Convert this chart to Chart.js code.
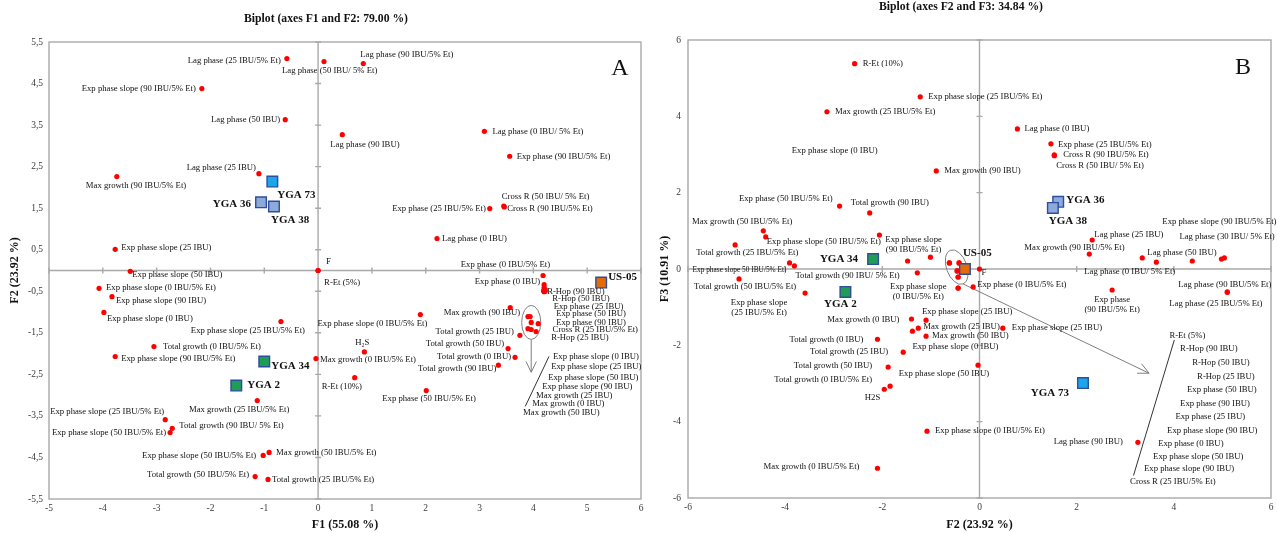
<!DOCTYPE html>
<html>
<head>
<meta charset="utf-8">
<script src="https://cdn.jsdelivr.net/npm/chart.js@4.4.1/dist/chart.umd.min.js"></script>
<style>
  html, body { margin: 0; padding: 0; background: #fff; }
  #wrap { position: relative; width: 1277px; height: 533px; overflow: hidden; }
  #cA { position: absolute; left: 0; top: 0; }
  #cB { position: absolute; left: 645px; top: 0; }
</style>
</head>
<body>
<div id="wrap">
  <canvas id="cA" width="650" height="533"></canvas>
  <canvas id="cB" width="635" height="533"></canvas>
</div>
<script>
// ---------- Panel A : axes F1 (55.08 %) and F2 (23.92 %) ----------
const varNamesA = [
  'Lag phase (25 IBU/5% Et)', 'Lag phase (50 IBU/ 5% Et)', 'Lag phase (90 IBU/5% Et)',
  'Exp phase slope (90 IBU/5% Et)', 'Lag phase (50 IBU)', 'Lag phase (90 IBU)',
  'Lag phase (0 IBU/ 5% Et)', 'Exp phase (90 IBU/5% Et)', 'Lag phase (25 IBU)',
  'Max growth (90 IBU/5% Et)', 'Cross R (50 IBU/ 5% Et)', 'Cross R (90 IBU/5% Et)',
  'Exp phase (25 IBU/5% Et)', 'Lag phase (0 IBU)', 'Exp phase slope (25 IBU)',
  'F', 'R-Et (5%)', 'Exp phase (0 IBU/5% Et)', 'Exp phase (0 IBU)',
  'R-Hop (90 IBU)', 'R-Hop (50 IBU)', 'Exp phase (25 IBU)', 'Exp phase (50 IBU)',
  'Exp phase (90 IBU)', 'Cross R (25 IBU/5% Et)', 'R-Hop (25 IBU)',
  'Max growth (90 IBU)', 'Exp phase slope (0 IBU/5% Et)', 'Total growth (25 IBU)',
  'Total growth (50 IBU)', 'Total growth (0 IBU)', 'Total growth (90 IBU)',
  'H\u2082S', 'Max growth (0 IBU/5% Et)', 'R-Et (10%)', 'Exp phase (50 IBU/5% Et)',
  'Exp phase slope (0 IBU)', 'Exp phase slope (25 IBU)', 'Exp phase slope (50 IBU)',
  'Exp phase slope (90 IBU)', 'Max growth (25 IBU)', 'Max growth (0 IBU)', 'Max growth (50 IBU)',
  'Exp phase slope (50 IBU)', 'Exp phase slope (0 IBU/5% Et)', 'Exp phase slope (90 IBU)',
  'Exp phase slope (0 IBU)', 'Exp phase slope (25 IBU/5% Et)', 'Total growth (0 IBU/5% Et)',
  'Exp phase slope (90 IBU/5% Et)', 'Max growth (25 IBU/5% Et)', 'Exp phase slope (25 IBU/5% Et)',
  'Total growth (90 IBU/ 5% Et)', 'Exp phase slope (50 IBU/5% Et)', 'Exp phase slope (50 IBU/5% Et)',
  'Max growth (50 IBU/5% Et)', 'Total growth (50 IBU/5% Et)', 'Total growth (25 IBU/5% Et)'
];
const f1A = [
  -0.58, 0.11, 0.84, -2.16, -0.61, 0.45, 3.09, 3.56, -1.10, -3.74, 3.45, 3.46, 3.19, 2.21, -3.77,
  0, 0, 4.18, 4.20, 4.20, 4.22, 4.21, 4.22, 4.20, 4.19, 4.20,
  3.57, 1.90, 3.75, 3.53, 3.66, 3.35, 0.86, -0.04, 0.68, 2.01,
  3.90, 3.94, 3.96, 4.09, 3.90, 3.96, 4.05,
  -3.49, -4.07, -3.83, -3.98, -0.69, -3.05, -3.77, -1.13, -2.84, -2.71, -2.75, -1.02, -0.91, -1.17, -0.93
];
const f2A = [
  5.10, 5.03, 4.98, 4.38, 3.63, 3.27, 3.35, 2.75, 2.33, 2.26, 1.55, 1.53, 1.49, 0.77, 0.51,
  0, 0, -0.12, -0.34, -0.41, -0.46, -0.48, -0.50, -0.51, -0.49, -0.47,
  -0.89, -1.06, -1.56, -1.88, -2.09, -2.28, -1.96, -2.12, -2.58, -2.89,
  -1.11, -1.11, -1.25, -1.28, -1.40, -1.42, -1.47,
  -0.02, -0.43, -0.63, -1.01, -1.23, -1.83, -2.07, -3.13, -3.59, -3.80, -3.90, -4.45, -4.38, -4.96, -5.03
];
const strainNamesA = ['YGA 73', 'YGA 36', 'YGA 38', 'YGA 34', 'YGA 2', 'US-05'];
const strainF1A = [-0.85, -1.06, -0.82, -1.00, -1.52, 5.26];
const strainF2A = [2.14, 1.64, 1.54, -2.19, -2.77, -0.29];
const xTicksA = [-5, -4, -3, -2, -1, 0, 1, 2, 3, 4, 5, 6];
const yTicksA = [-5.5, -4.5, -3.5, -2.5, -1.5, -0.5, 0.5, 1.5, 2.5, 3.5, 4.5, 5.5];

// ---------- Panel B : axes F2 (23.92 %) and F3 (10.91 %) ----------
const varNamesB = [
  'R-Et (10%)', 'Exp phase slope (25 IBU/5% Et)', 'Max growth (25 IBU/5% Et)', 'Lag phase (0 IBU)',
  'Exp phase (25 IBU/5% Et)', 'Cross R (90 IBU/5% Et)', 'Cross R (50 IBU/ 5% Et)', 'Max growth (90 IBU)',
  'Exp phase (50 IBU/5% Et)', 'Total growth (90 IBU)', 'Max growth (50 IBU/5% Et)',
  'Exp phase slope (50 IBU/5% Et)', 'Total growth (25 IBU/5% Et)', 'Exp phase slope 50 IBU/5% Et)',
  'Total growth (90 IBU/ 5% Et)', 'Total growth (50 IBU/5% Et)', 'Exp phase slope\n(25 IBU/5% Et)',
  '', 'Exp phase slope\n(90 IBU/5% Et)', '', 'Exp phase slope\n(0 IBU/5% Et)',
  'Max growth (0 IBU)', 'Exp phase slope (25 IBU)', 'Max growth (25 IBU)', 'Max growth (50 IBU)',
  'Exp phase slope (0 IBU)', 'Total growth (0 IBU)', 'Total growth (25 IBU)', 'Total growth (50 IBU)',
  'Total growth (0 IBU/5% Et)', 'H2S', 'Max growth (0 IBU/5% Et)', 'Exp phase slope (0 IBU/5% Et)',
  'F', 'Exp phase (0 IBU/5% Et)',
  'R-Et (5%)', 'R-Hop (90 IBU)', 'R-Hop (50 IBU)', 'R-Hop (25 IBU)', 'Exp phase (50 IBU)',
  'Exp phase (90 IBU)', 'Exp phase (25 IBU)', 'Exp phase slope (90 IBU)', 'Exp phase (0 IBU)',
  'Exp phase slope (50 IBU)', 'Exp phase slope (90 IBU)', 'Cross R (25 IBU/5% Et)',
  'Lag phase (25 IBU)', 'Max growth (90 IBU/5% Et)', 'Lag phase (0 IBU/ 5% Et)', 'Lag phase (50 IBU)',
  '', 'Lag phase (30 IBU/ 5% Et)', 'Exp phase slope (90 IBU/5% Et)', 'Lag phase (90 IBU/5% Et)',
  'Lag phase (25 IBU/5% Et)', 'Exp phase\n(90 IBU/5% Et)', 'Exp phase slope (25 IBU)',
  'Exp phase slope (50 IBU)', 'Lag phase (90 IBU)'
];
const f2B = [
  -2.57, -1.22, -3.14, 0.78, 1.47, 1.54, 1.54, -0.89, -2.88, -2.26, -4.45,
  -4.40, -5.03, -3.91, -3.81, -4.95, -3.59, -2.06, -1.48, -1.01, -1.28,
  -1.40, -1.10, -1.26, -1.10, -1.38, -2.10, -1.57, -1.88, -1.84, -1.96, -2.10, -1.08,
  0, -0.13,
  -0.62, -0.42, -0.46, -0.44, -0.36, -0.44, -0.62, -0.42, -0.46, -0.44, -0.36, -0.44,
  2.32, 2.26, 3.35, 3.64, 4.38, 4.98, 5.04, 5.10, 5.10, 2.73, 0.48, -0.03, 3.26
];
const f3B = [
  5.38, 4.51, 4.12, 3.67, 3.28, 2.99, 2.97, 2.57, 1.65, 1.47, 1.00,
  0.84, 0.63, 0.16, 0.08, -0.26, -0.63, 0.89, 0.21, 0.31, -0.10,
  -1.31, -1.34, -1.55, -1.76, -1.63, -1.84, -2.18, -2.57, -3.07, -3.15, -5.22, -4.25,
  0, -0.47,
  0.16, 0.16, -0.05, -0.21, 0.08, -0.50, 0.16, 0.16, -0.05, -0.21, 0.08, -0.50,
  0.76, 0.39, 0.29, 0.18, 0.21, 0.26, 0.29, -0.60, -0.61, -0.55, -1.55, -2.52, -4.54
];
const strainNamesB = ['YGA 34', 'YGA 2', 'YGA 36', 'YGA 38', 'YGA 73', 'US-05'];
const strainF2B = [-2.19, -2.76, 1.62, 1.51, 2.13, -0.30];
const strainF3B = [0.26, -0.60, 1.76, 1.60, -2.99, 0.00];
const ticksB = [-6, -4, -2, 0, 2, 4, 6];
const looseLabelsB = ['Exp phase slope (0 IBU)'];
const looseF2B = [-2.98];
const looseF3B = [3.10];

// ---------- label placement (pixel offsets from each marker, text alignment, optional max width) ----------
const varLabelPosA = [
  [-6, 2, 'r'], [-42, 9, 'l'], [-3, -9, 'l'], [-6, 0, 'r'], [-5, 0, 'r'], [-12, 10, 'l'],
  [8, 0, 'l'], [7, 0, 'l'], [-3, -6, 'r'], [-31, 9, 'l'], [-2, -9, 'l'], [3, 2, 'l'],
  [-4, 0, 'r'], [5, 0, 'l'], [6, -2, 'l'],
  [8, -9, 'l'], [6, 12, 'l'], [7, -11, 'r'], [-4, -3, 'r'],
  [3, 4, 'l'], [7, 9, 'l'], [9, 16, 'l'], [11, 22, 'l'], [12, 31, 'l'], [9, 39, 'l'], [7, 48, 'l'],
  [10, 5, 'r'], [7, 9, 'r'], [-6, -4, 'r'], [-4, -5, 'r'], [-4, -1, 'r'], [-2, 3, 'r'],
  [-2, -9, 'c'], [4, 1, 'l'], [-33, 9, 'l'], [-44, 8, 'l'],
  [25, 40, 'l'], [21, 50, 'l'], [17, 55, 'l'], [4, 63, 'l'], [8, 67, 'l'], [1, 74, 'l'], [-13, 81, 'l'],
  [2, 3, 'l'], [7, -1, 'l'], [4, 4, 'l'], [3, 6, 'l'], [24, 9, 'r'], [9, 0, 'l'], [6, 2, 'l'],
  [32, 9, 'r'], [-1, -8, 'r'], [7, -3, 'l'], [-4, 0, 'r'], [-7, 0, 'r'], [7, 0, 'l'], [-6, -2, 'r'], [4, 0, 'l']
];
const strainLabelPosA = [[5, 14, 'l'], [-10, 2, 'r'], [-3, 14, 'l'], [7, 5, 'l'], [11, 0, 'l'], [7, -5, 'l']];

const varLabelPosB = [
  [8, 0, 'l'], [8, 0, 'l'], [8, 0, 'l'], [7, 0, 'l'], [7, 1, 'l'], [9, 0, 'l'], [2, 10, 'l'], [8, 0, 'l'],
  [-7, -7, 'r'], [-19, -10, 'l'], [29, -9, 'r'],
  [1, 5, 'l'], [-39, 8, 'l'], [-3, 7, 'r', 94], [1, 10, 'l'], [-45, 8, 'l'], [-46, 10, 'c'],
  [0, 0, 'l'], [6, -21, 'c'], [0, 0, 'l'], [1, 14, 'c'],
  [-12, 1, 'r'], [-4, -8, 'l'], [5, -1, 'l'], [6, 0, 'l'], [0, 15, 'l'], [-14, 0, 'r'], [-15, 0, 'r'],
  [-16, -1, 'r'], [-18, -6, 'r'], [-4, 8, 'r'], [-18, -2, 'r'], [8, 0, 'l'],
  [2, 4, 'l'], [4, -2, 'l'],
  [220, 73, 'l'], [221, 86, 'l'], [235, 92, 'l'], [239, 100, 'l'], [225, 124, 'l'], [222, 116, 'l'],
  [226, 154, 'l'], [208, 168, 'l'], [201, 173, 'l'], [195, 180, 'l'], [182, 203, 'l'], [172, 194, 'l'],
  [2, -5, 'l'], [-65, -6, 'l'], [-58, 14, 'l'], [-9, -9, 'l'], [0, 0, 'l'], [-42, -22, 'l'],
  [-62, -36, 'l'], [-49, -7, 'l'], [-58, 11, 'l'], [0, 10, 'c'], [9, 0, 'l'], [11, 9, 'r'], [-15, -1, 'r']
];
const strainLabelPosB = [[-15, 0, 'r'], [-5, 12, 'c'], [8, -2, 'l'], [-4, 13, 'l'], [-14, 10, 'r'], [-2, -16, 'l']];

// ---------- styling ----------
const SERIF = '"Liberation Serif", "Times New Roman", serif';
const VAR_FONT = '8.7px ' + SERIF;
const STRAIN_FONT = '700 11px ' + SERIF;
const AXIS_GREY = '#a9a9a9';
const NOTE_GREY = '#7f7f7f';
const strainFillA = ['#1aa6ea', '#8eaadb', '#8eaadb', '#1f9d55', '#1f9d55', '#e26b0a'];
const strainFillB = ['#1f9d55', '#1f9d55', '#8eaadb', '#8eaadb', '#1aa6ea', '#e26b0a'];

// Text labels next to markers, drawn from each element's resolved pixel position
const pointLabels = {
  id: 'pointLabels',
  afterDatasetsDraw(chart) {
    const ctx = chart.ctx;
    const alignMap = { l: 'left', r: 'right', c: 'center' };
    chart.data.datasets.forEach((ds, di) => {
      if (!ds.labelTexts) return;
      const meta = chart.getDatasetMeta(di);
      ctx.save();
      ctx.font = ds.labelFont;
      ctx.fillStyle = '#111';
      ctx.textBaseline = 'middle';
      meta.data.forEach((pt, i) => {
        const text = ds.labelTexts[i];
        if (!text) return;
        const [dx, dy, al, maxW] = ds.labelPos[i];
        ctx.textAlign = alignMap[al];
        text.split('\n').forEach((line, k) => {
          if (maxW) ctx.fillText(line, pt.x + dx, pt.y + dy + k * 9.5, maxW);
          else ctx.fillText(line, pt.x + dx, pt.y + dy + k * 9.5);
        });
      });
      ctx.restore();
    });
  }
};

// Frame, centred axes, cluster ring, arrows, titles
const biplotFrame = {
  id: 'biplotFrame',
  beforeDatasetsDraw(chart, args, o) {
    const { ctx, chartArea: a, scales: { x, y } } = chart;
    const x0 = x.getPixelForValue(0), y0 = y.getPixelForValue(0);
    ctx.save();
    ctx.strokeStyle = AXIS_GREY;
    ctx.lineWidth = 1.4;
    ctx.strokeRect(a.left, a.top, a.right - a.left, a.bottom - a.top);
    ctx.beginPath();
    ctx.moveTo(a.left, y0); ctx.lineTo(a.right, y0);
    ctx.moveTo(x0, a.top); ctx.lineTo(x0, a.bottom);
    x.ticks.forEach(t => {
      const px = x.getPixelForValue(t.value);
      ctx.moveTo(px, y0 - 3); ctx.lineTo(px, y0 + 3);
    });
    y.ticks.forEach(t => {
      const py = y.getPixelForValue(t.value);
      ctx.moveTo(x0 - 3, py); ctx.lineTo(x0 + 3, py);
    });
    ctx.stroke();

    // ring around the tight cluster
    ctx.strokeStyle = NOTE_GREY;
    ctx.lineWidth = 1;
    const r = o.ring;
    const cx = x.getPixelForValue(r.cx), cy = y.getPixelForValue(r.cy);
    const rx = Math.abs(x.getPixelForValue(r.cx + r.rx) - cx);
    const ry = Math.abs(y.getPixelForValue(r.cy + r.ry) - cy);
    ctx.beginPath();
    ctx.ellipse(cx, cy, rx, ry, r.rot, 0, Math.PI * 2);
    ctx.stroke();

    // arrow leaving the ring
    const ax1 = x.getPixelForValue(o.arrow[0]), ay1 = y.getPixelForValue(o.arrow[1]);
    const ax2 = x.getPixelForValue(o.arrow[2]), ay2 = y.getPixelForValue(o.arrow[3]);
    const ang = Math.atan2(ay2 - ay1, ax2 - ax1);
    ctx.beginPath();
    ctx.moveTo(ax1, ay1); ctx.lineTo(ax2, ay2);
    ctx.moveTo(ax2 - 12 * Math.cos(ang - 0.45), ay2 - 12 * Math.sin(ang - 0.45));
    ctx.lineTo(ax2, ay2);
    ctx.lineTo(ax2 - 12 * Math.cos(ang + 0.45), ay2 - 12 * Math.sin(ang + 0.45));
    ctx.stroke();

    // leader beside the stacked label list
    ctx.strokeStyle = '#333';
    ctx.beginPath();
    ctx.moveTo(x.getPixelForValue(o.leader[0]), y.getPixelForValue(o.leader[1]));
    ctx.lineTo(x.getPixelForValue(o.leader[2]), y.getPixelForValue(o.leader[3]));
    ctx.stroke();
    ctx.restore();
  },
  afterDraw(chart, args, o) {
    const { ctx, scales: { x, y } } = chart;
    ctx.save();
    ctx.fillStyle = '#111';
    ctx.textAlign = 'center';
    ctx.textBaseline = 'middle';
    ctx.font = '700 11.7px ' + SERIF;
    ctx.fillText(o.title, o.titleAt[0], o.titleAt[1]);
    ctx.font = '24px ' + SERIF;
    ctx.fillText(o.letter, o.letterAt[0], o.letterAt[1]);
    ctx.font = VAR_FONT;
    (o.loose || []).forEach(l => {
      ctx.fillText(l.text, x.getPixelForValue(l.x), y.getPixelForValue(l.y));
    });
    ctx.restore();
  }
};

function fixedTicks(values) {
  return scale => { scale.ticks = values.map(v => ({ value: v })); };
}
function axis(opts) {
  return {
    type: 'linear',
    position: opts.position,
    min: opts.min, max: opts.max,
    afterBuildTicks: fixedTicks(opts.ticks),
    afterFit: scale => {
      if (opts.position === 'left') scale.width = opts.size; else scale.height = opts.size;
      scale.paddingLeft = 0; scale.paddingRight = 0; scale.paddingTop = 0; scale.paddingBottom = 0;
    },
    grid: { display: false, drawTicks: false },
    border: { display: false },
    ticks: {
      padding: opts.pad,
      color: '#3a3a3a',
      font: { family: SERIF, size: 9.5 },
      callback: v => String(v).replace('.', ',')
    },
    title: {
      display: true, text: opts.title, color: '#111',
      font: { family: SERIF, size: 12, weight: '700' },
      padding: opts.titlePad
    }
  };
}

function makeChart(canvasId, cfg) {
  return new Chart(document.getElementById(canvasId), {
    type: 'scatter',
    data: {
      datasets: [
        {
          data: cfg.sx.map((v, i) => ({ x: v, y: cfg.sy[i] })),
          pointStyle: 'rect', pointRadius: 7.5,
          backgroundColor: cfg.strainFill, borderColor: '#2e4d9c', borderWidth: 1.4,
          labelTexts: cfg.strainNames, labelPos: cfg.strainPos, labelFont: STRAIN_FONT
        },
        {
          data: cfg.vx.map((v, i) => ({ x: v, y: cfg.vy[i] })),
          pointRadius: 2.6, backgroundColor: '#ff0000', borderWidth: 0,
          labelTexts: cfg.varNames, labelPos: cfg.varPos, labelFont: VAR_FONT
        }
      ]
    },
    options: {
      responsive: false,
      animation: false,
      events: [],
      layout: { padding: cfg.padding },
      scales: { x: cfg.xAxis, y: cfg.yAxis },
      plugins: { legend: { display: false }, tooltip: { enabled: false }, biplotFrame: cfg.frame }
    },
    plugins: [biplotFrame, pointLabels]
  });
}

makeChart('cA', {
  vx: f1A, vy: f2A, varNames: varNamesA, varPos: varLabelPosA,
  sx: strainF1A, sy: strainF2A, strainNames: strainNamesA, strainPos: strainLabelPosA, strainFill: strainFillA,
  padding: { top: 42, right: 9, left: 0, bottom: 0 },
  xAxis: axis({ position: 'bottom', min: -5, max: 6, ticks: xTicksA, size: 34, pad: 4,
                title: 'F1 (55.08 %)', titlePad: { top: 0, bottom: 1 } }),
  yAxis: axis({ position: 'left', min: -5.5, max: 5.5, ticks: yTicksA, size: 49, pad: 6,
                title: 'F2 (23.92 %)', titlePad: { top: 8, bottom: 0 } }),
  frame: {
    title: 'Biplot (axes F1 and F2: 79.00 %)', titleAt: [326, 19],
    letter: 'A', letterAt: [620, 69],
    ring: { cx: 3.96, cy: -1.25, rx: 0.177, ry: 0.41, rot: 0 },
    arrow: [3.96, -1.67, 3.96, -2.45],
    leader: [4.29, -2.07, 3.85, -3.27]
  }
});

makeChart('cB', {
  vx: f2B, vy: f3B, varNames: varNamesB, varPos: varLabelPosB,
  sx: strainF2B, sy: strainF3B, strainNames: strainNamesB, strainPos: strainLabelPosB, strainFill: strainFillB,
  padding: { top: 40, right: 9, left: 0, bottom: 0 },
  xAxis: axis({ position: 'bottom', min: -6, max: 6, ticks: ticksB, size: 35, pad: 4,
                title: 'F2 (23.92 %)', titlePad: { top: 0, bottom: 1 } }),
  yAxis: axis({ position: 'left', min: -6, max: 6, ticks: ticksB, size: 43, pad: 7,
                title: 'F3 (10.91 %)', titlePad: { top: 13, bottom: 0 } }),
  frame: {
    title: 'Biplot (axes F2 and F3: 34.84 %)', titleAt: [316, 7],
    letter: 'B', letterAt: [598, 68],
    ring: { cx: -0.47, cy: 0.05, rx: 0.21, ry: 0.47, rot: -0.35 },
    arrow: [-0.34, -0.39, 3.49, -2.73],
    leader: [4.01, -1.86, 3.17, -5.41],
    loose: looseLabelsB.map((t, i) => ({ text: t, x: looseF2B[i], y: looseF3B[i] }))
  }
});
</script>
</body>
</html>
